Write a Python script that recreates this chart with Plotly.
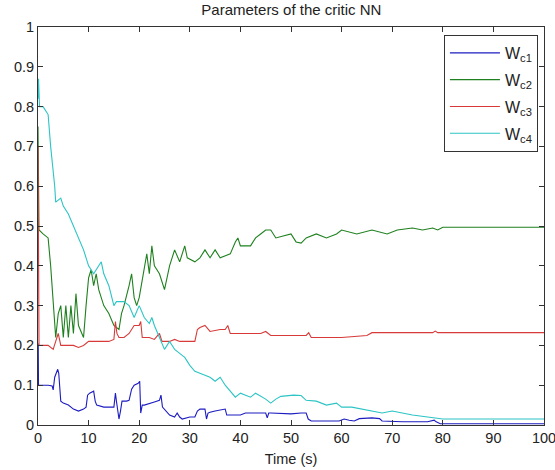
import plotly.graph_objects as go

# ---- data ----
t1 = [0, 0.05, 0.1, 2.0, 2.8, 3.0, 3.3, 3.9, 4.1, 4.5, 5.0, 6.0, 7.0, 8.0, 9.0, 9.5, 9.8, 10.2, 11.0, 11.3, 11.6, 13.0, 15.0, 15.3, 15.5, 15.8, 16.0, 16.3, 16.6, 17.5, 18.0, 18.5, 19.0, 19.8, 20.1, 20.3, 20.6, 21.0, 22.0, 23.0, 24.0, 24.3, 24.6, 25.0, 26.0, 27.0, 27.5, 28.0, 28.5, 30.0, 31.0, 31.5, 32.0, 33.0, 33.3, 33.6, 34.0, 35.0, 37.0, 37.3, 37.6, 40.0, 41.0, 45.0, 45.3, 45.6, 46.0, 50.0, 52.0, 53.0, 53.4, 54.0, 59.5, 60.5, 61.5, 62.5, 63.5, 66.0, 67.5, 68.0, 72.0, 77.0, 78.3, 78.7, 79.5, 100]
w1 = [0.205, 0.2, 0.1, 0.1, 0.098, 0.088, 0.12, 0.14, 0.13, 0.06, 0.055, 0.05, 0.04, 0.035, 0.04, 0.045, 0.075, 0.08, 0.085, 0.06, 0.05, 0.045, 0.045, 0.08, 0.06, 0.03, 0.015, 0.035, 0.06, 0.06, 0.062, 0.09, 0.1, 0.105, 0.11, 0.03, 0.05, 0.05, 0.055, 0.058, 0.062, 0.075, 0.045, 0.04, 0.025, 0.02, 0.03, 0.02, 0.015, 0.02, 0.02, 0.035, 0.04, 0.04, 0.015, 0.03, 0.032, 0.035, 0.04, 0.025, 0.025, 0.025, 0.03, 0.03, 0.018, 0.03, 0.03, 0.028, 0.03, 0.03, 0.015, 0.01, 0.01, 0.015, 0.012, 0.01, 0.016, 0.018, 0.016, 0.01, 0.008, 0.008, 0.012, 0.008, 0.003, 0.003]

t2 = [0, 0.05, 0.2, 1.0, 2.0, 2.5, 3.0, 3.5, 4.0, 4.5, 5.0, 5.5, 6.0, 6.5, 7.0, 7.5, 8.0, 9.0, 9.5, 10.0, 10.5, 11.0, 11.5, 12.0, 13.0, 14.0, 15.0, 16.0, 16.5, 17.0, 18.0, 18.5, 19.0, 19.5, 20.0, 21.0, 21.5, 22.0, 22.5, 23.0, 24.0, 25.0, 26.0, 27.0, 28.0, 29.0, 29.5, 31.0, 32.0, 33.0, 34.0, 35.0, 36.0, 38.0, 39.0, 39.5, 40.0, 42.0, 43.0, 44.0, 45.0, 46.0, 47.0, 50.0, 51.0, 52.0, 53.0, 55.0, 57.0, 59.0, 60.0, 63.0, 66.0, 69.0, 71.0, 74.0, 76.0, 78.0, 79.0, 80.0, 100]
w2 = [0.75, 0.6, 0.49, 0.48, 0.47, 0.4, 0.3, 0.22, 0.28, 0.3, 0.22, 0.3, 0.22, 0.3, 0.23, 0.33, 0.25, 0.22, 0.3, 0.37, 0.39, 0.35, 0.38, 0.34, 0.3, 0.28, 0.25, 0.24, 0.28, 0.3, 0.35, 0.38, 0.32, 0.3, 0.32, 0.4, 0.43, 0.38, 0.45, 0.4, 0.38, 0.34, 0.4, 0.44, 0.41, 0.45, 0.42, 0.41, 0.42, 0.44, 0.42, 0.44, 0.42, 0.43, 0.46, 0.47, 0.45, 0.45, 0.47, 0.48, 0.49, 0.49, 0.47, 0.48, 0.46, 0.457, 0.47, 0.48, 0.47, 0.48, 0.49, 0.48, 0.49, 0.48, 0.49, 0.495, 0.49, 0.495, 0.49, 0.497, 0.497]

t3 = [0, 0.05, 0.2, 2.0, 3.0, 3.5, 4.0, 4.5, 7.0, 8.0, 9.0, 10.0, 12.0, 14.0, 15.0, 15.3, 15.6, 16.0, 17.0, 18.0, 19.0, 20.0, 20.3, 20.6, 22.0, 23.0, 24.0, 24.5, 26.0, 27.0, 28.0, 31.0, 31.5, 32.0, 33.0, 34.0, 36.0, 37.0, 37.5, 38.0, 40.0, 44.0, 45.0, 46.0, 53.0, 53.5, 54.0, 60.0, 65.0, 66.0, 78.0, 78.5, 79.0, 100]
w3 = [0.7, 0.5, 0.2, 0.2, 0.19, 0.21, 0.23, 0.2, 0.2, 0.195, 0.2, 0.21, 0.21, 0.21, 0.215, 0.26, 0.23, 0.22, 0.22, 0.23, 0.25, 0.25, 0.26, 0.22, 0.22, 0.215, 0.23, 0.21, 0.21, 0.215, 0.21, 0.21, 0.24, 0.245, 0.25, 0.235, 0.24, 0.24, 0.25, 0.23, 0.23, 0.23, 0.235, 0.225, 0.225, 0.232, 0.22, 0.22, 0.225, 0.232, 0.232, 0.236, 0.232, 0.232]

t4 = [0, 0.1, 0.3, 1.0, 2.0, 2.5, 3.3, 3.5, 4.5, 5.0, 6.0, 7.0, 8.0, 9.0, 10.0, 11.0, 12.0, 12.5, 13.0, 14.0, 15.0, 15.5, 17.0, 18.0, 19.0, 20.0, 21.0, 22.0, 22.5, 23.0, 24.0, 25.0, 26.0, 27.0, 28.0, 29.0, 30.0, 31.0, 32.0, 34.0, 35.0, 36.0, 37.0, 38.0, 39.0, 40.0, 42.0, 43.0, 45.0, 46.0, 47.0, 48.0, 50.5, 52.0, 53.0, 55.0, 57.0, 59.0, 60.0, 62.0, 64.0, 66.0, 68.0, 70.0, 72.0, 74.0, 77.0, 78.0, 80.0, 100]
w4 = [0.82, 0.87, 0.8, 0.8, 0.78, 0.7, 0.6, 0.56, 0.57, 0.55, 0.53, 0.5, 0.47, 0.44, 0.4, 0.38, 0.4, 0.41, 0.38, 0.35, 0.3, 0.31, 0.31, 0.3, 0.27, 0.3, 0.27, 0.255, 0.27, 0.25, 0.22, 0.19, 0.21, 0.19, 0.18, 0.17, 0.15, 0.135, 0.13, 0.12, 0.11, 0.12, 0.1, 0.085, 0.07, 0.08, 0.07, 0.08, 0.065, 0.055, 0.065, 0.072, 0.075, 0.074, 0.062, 0.06, 0.05, 0.055, 0.045, 0.045, 0.04, 0.035, 0.03, 0.035, 0.03, 0.025, 0.02, 0.018, 0.015, 0.015]

names = ["W<sub>c1</sub>", "W<sub>c2</sub>", "W<sub>c3</sub>", "W<sub>c4</sub>"]
colors = ["#1c1cc0", "#1f801f", "#d83a3a", "#2cc4c4"]

xticks = [0, 10, 20, 30, 40, 50, 60, 70, 80, 90, 100]
yticks = [0, 0.1, 0.2, 0.3, 0.4, 0.5, 0.6, 0.7, 0.8, 0.9, 1]
ytick_labels = ["0", "0.1", "0.2", "0.3", "0.4", "0.5", "0.6", "0.7", "0.8", "0.9", "1"]

fig = go.Figure()
for i, (t, w, n, c) in enumerate(zip([t1, t2, t3, t4], [w1, w2, w3, w4], names, colors)):
    fig.add_trace(go.Scatter(x=t, y=w, mode="lines", name=n, legendgroup="g%d" % i,
                             line=dict(color=c, width=1.1)))

font = "Liberation Sans, Arial, sans-serif"
axis_common = dict(showgrid=False, zeroline=False, showline=True, mirror="ticks",
                   linecolor="#333333", linewidth=1, ticks="inside", ticklen=5,
                   tickcolor="#333333", automargin=False, ticklabeloverflow="allow",
                   tickfont=dict(family=font, size=14.5, color="#222222"))

fig.update_layout(
    width=555, height=470,
    margin=dict(l=38, r=11, t=27, b=45),
    paper_bgcolor="white", plot_bgcolor="white",
    title=dict(text="Parameters of the critic NN", x=0.525, xanchor="center",
               yref="container", y=0.99, yanchor="top",
               font=dict(family=font, size=15, color="#222222")),
    xaxis=dict(range=[0, 100], tickvals=xticks,
               title=dict(text="Time (s)", font=dict(family=font, size=14.5, color="#222222"), standoff=8),
               **axis_common),
    yaxis=dict(range=[0, 1], tickvals=yticks, ticktext=ytick_labels, **axis_common),
    legend=dict(x=0.988, y=0.98, xanchor="right", yanchor="top",
                bgcolor="white", bordercolor="#333333", borderwidth=1,
                tracegroupgap=3, itemwidth=50,
                font=dict(family=font, size=16, color="#222222")),
    showlegend=True,
)

fig.write_html("out.html", config={"displayModeBar": False},
               post_script="document.body.style.margin='0px';")
